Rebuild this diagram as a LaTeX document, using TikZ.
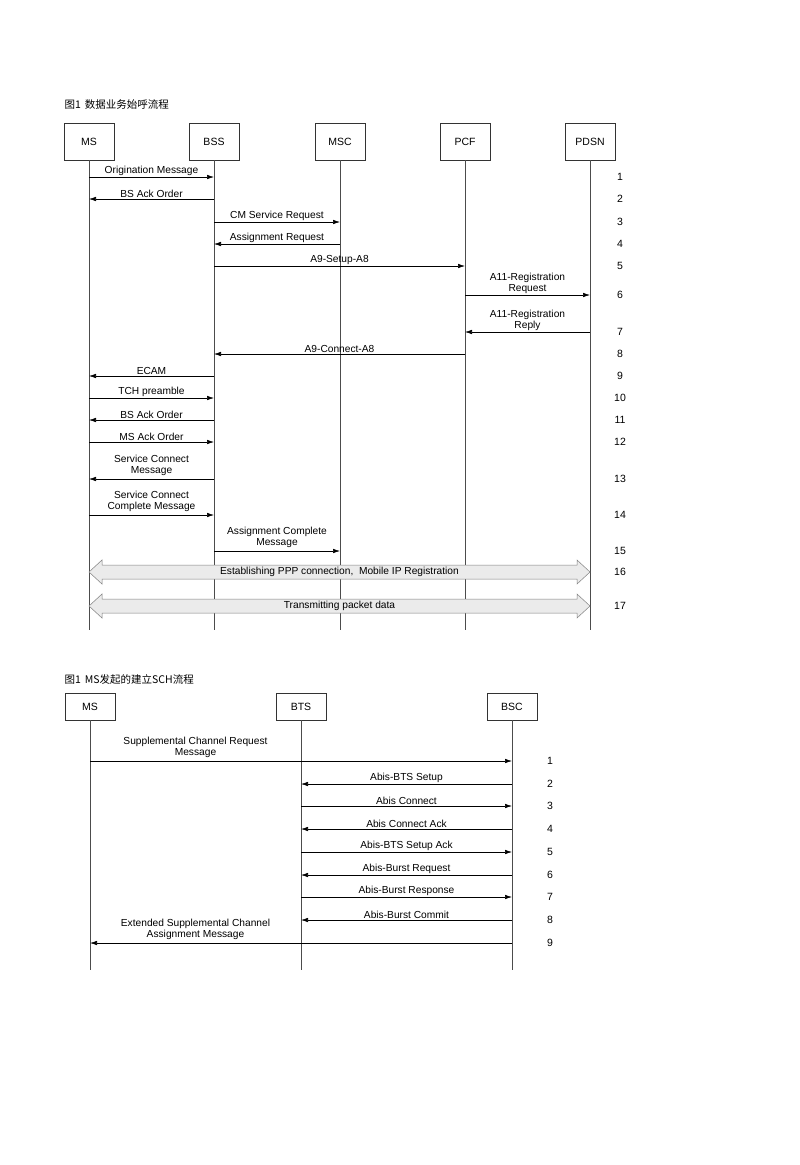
\documentclass[tikz,border=0pt]{standalone}
\usepackage{fontspec}
\setmainfont{Liberation Sans}
\newfontfamily\cjk{Noto Sans CJK SC}
\usetikzlibrary{arrows.meta,calc}
\begin{document}
\begin{tikzpicture}[x=1pt,y=-1pt,
  ent/.style={draw=black!80,line width=0.6pt,minimum width=50pt,minimum height=37pt,font=\fontsize{10.5}{11}\selectfont,inner sep=0pt},
  entb/.style={ent,minimum height=27pt},
  life/.style={draw=black!70,line width=0.6pt},
  msg/.style={draw=black,line width=0.6pt,-{Latex[length=7pt,width=4.5pt]}},
  lab/.style={font=\fontsize{10.2}{11}\selectfont,align=center,inner sep=1pt,above},
  num/.style={font=\fontsize{10.5}{11}\selectfont},
  band/.style={draw=black!50,fill=black!8,line width=0.5pt}]
\useasboundingbox (0,0) rectangle (800,1165);
\fill[white] (0,0) rectangle (800,1165);
% ---------- diagram 1 ----------
\node[anchor=west,font=\cjk\fontsize{10.5}{11}\selectfont] (t1) at (61,105) {图1\, 数据业务始呼流程};
\foreach \n/\t/\x in {ms/MS/89,bss/BSS/214,msc/MSC/340,pcf/PCF/465,pdsn/PDSN/590}{
  \node[ent] (\n) at (\x,141.5) {\t};
  \coordinate (\n-end) at (\x,630);
  \draw[life] (\n) -- (\n-end);
}
\foreach \i/\y in {1/177,2/199,3/222,4/244,5/266,6/295,7/332,8/354,9/376,10/398,11/420,12/442,13/479,14/515,15/551,16/572,17/606}{
  \coordinate (r\i) at (0,\y);
  \node[num] (n\i) at (620,\y) {\i};
}
\draw[msg] (ms|-r1) -- node[lab]{Origination Message} (bss|-r1);
\draw[msg] (bss|-r2) -- node[lab]{BS Ack Order} (ms|-r2);
\draw[msg] (bss|-r3) -- node[lab]{CM Service Request} (msc|-r3);
\draw[msg] (msc|-r4) -- node[lab]{Assignment Request} (bss|-r4);
\draw[msg] (bss|-r5) -- node[lab]{A9-Setup-A8} (pcf|-r5);
\draw[msg] (pcf|-r6) -- node[lab]{A11-Registration\\Request} (pdsn|-r6);
\draw[msg] (pdsn|-r7) -- node[lab]{A11-Registration\\Reply} (pcf|-r7);
\draw[msg] (pcf|-r8) -- node[lab]{A9-Connect-A8} (bss|-r8);
\draw[msg] (bss|-r9) -- node[lab]{ECAM} (ms|-r9);
\draw[msg] (ms|-r10) -- node[lab]{TCH preamble} (bss|-r10);
\draw[msg] (bss|-r11) -- node[lab]{BS Ack Order} (ms|-r11);
\draw[msg] (ms|-r12) -- node[lab]{MS Ack Order} (bss|-r12);
\draw[msg] (bss|-r13) -- node[lab,yshift=2pt]{Service Connect\\Message} (ms|-r13);
\draw[msg] (ms|-r14) -- node[lab,yshift=2pt]{Service Connect\\Complete Message} (bss|-r14);
\draw[msg] (bss|-r15) -- node[lab,yshift=2pt]{Assignment Complete\\Message} (msc|-r15);
\foreach \i/\t in {16/{Establishing PPP connection,\ \ Mobile IP Registration},17/{Transmitting packet data}}{
  \path[band] ($(ms|-r\i)$) -- ++(13,-12) -- ++(0,5) -- ($(pdsn|-r\i)+(-13,-7)$) -- ++(0,-5) -- (pdsn|-r\i) -- ++(-13,12) -- ++(0,-5) -- ($(ms|-r\i)+(13,7)$) -- ++(0,5) -- cycle;
  \node[font=\fontsize{10.2}{11}\selectfont] (b\i) at ($(ms|-r\i)!0.5!(pdsn|-r\i)$) {\t};
}
% ---------- diagram 2 ----------
\node[anchor=west,font=\cjk\fontsize{10.5}{11}\selectfont] (t2) at (61,680) {图1\, MS发起的建立SCH流程};
\foreach \n/\t/\x in {ms2/MS/90,bts/BTS/301,bsc/BSC/512}{
  \node[entb] (\n) at (\x,706.5) {\t};
  \coordinate (\n-end) at (\x,970);
  \draw[life] (\n) -- (\n-end);
}
\foreach \i/\y in {1/761,2/784,3/806,4/829,5/852,6/875,7/897,8/920,9/943}{
  \coordinate (s\i) at (0,\y);
  \node[num] (m\i) at (550,\y) {\i};
}
\draw[msg] (ms2|-s1) -- node[lab,pos=0.25,yshift=2pt]{Supplemental Channel Request\\Message} (bsc|-s1);
\draw[msg] (bsc|-s2) -- node[lab]{Abis-BTS Setup} (bts|-s2);
\draw[msg] (bts|-s3) -- node[lab]{Abis Connect} (bsc|-s3);
\draw[msg] (bsc|-s4) -- node[lab]{Abis Connect Ack} (bts|-s4);
\draw[msg] (bts|-s5) -- node[lab]{Abis-BTS Setup Ack} (bsc|-s5);
\draw[msg] (bsc|-s6) -- node[lab]{Abis-Burst Request} (bts|-s6);
\draw[msg] (bts|-s7) -- node[lab]{Abis-Burst Response} (bsc|-s7);
\draw[msg] (bsc|-s8) -- node[lab]{Abis-Burst Commit} (bts|-s8);
\draw[msg] (bsc|-s9) -- node[lab,pos=0.75,yshift=2pt]{Extended Supplemental Channel\\Assignment Message} (ms2|-s9);
\end{tikzpicture}
\end{document}
